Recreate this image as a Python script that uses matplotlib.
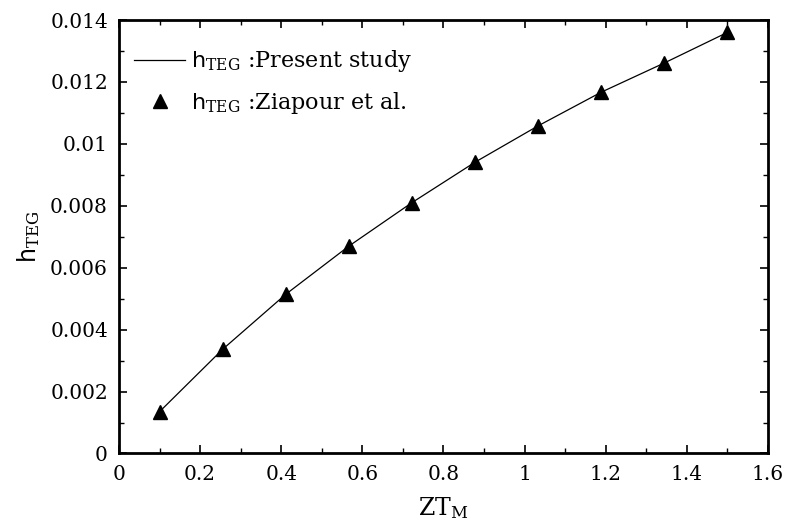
import matplotlib
matplotlib.use('Agg')
import matplotlib.pyplot as plt
from matplotlib.ticker import MultipleLocator, FuncFormatter

# data
zt = [0.1, 0.256, 0.411, 0.567, 0.722, 0.878, 1.033, 1.189, 1.344, 1.5]
h_present = [0.00135, 0.00337, 0.00514, 0.00670, 0.00810, 0.00941, 0.01058, 0.01167, 0.01261, 0.01360]
h_ziapour = [0.00135, 0.00337, 0.00514, 0.00670, 0.00810, 0.00941, 0.01058, 0.01167, 0.01261, 0.01360]

plt.rcParams['font.family'] = ['DejaVu Serif']
plt.rcParams['mathtext.fontset'] = 'dejavuserif'

fig = plt.figure(figsize=(7.88, 5.27), dpi=100)
ax = fig.add_axes([0.151, 0.1395, 0.8236, 0.8225])

ax.plot(zt, h_present, color='black', lw=0.9,
        label=r'$\mathsf{h}_{\rm TEG}$ :Present study')
ax.plot(zt, h_ziapour, ls='none', marker='^', ms=9.5, color='black',
        label=r'$\mathsf{h}_{\rm TEG}$ :Ziapour et al.')

ax.set_xlim(0, 1.6)
ax.set_ylim(0, 0.014)
ax.xaxis.set_major_locator(MultipleLocator(0.2))
ax.xaxis.set_minor_locator(MultipleLocator(0.1))
ax.yaxis.set_major_locator(MultipleLocator(0.002))
ax.yaxis.set_minor_locator(MultipleLocator(0.001))
fmt = FuncFormatter(lambda v, p: '%g' % round(v, 6))
ax.xaxis.set_major_formatter(fmt)
ax.yaxis.set_major_formatter(fmt)

ax.tick_params(which='both', direction='in', top=True, right=True, labelsize=14.5)
ax.tick_params(which='major', length=6, width=1.2, pad=8)
ax.tick_params(which='minor', length=3.5, width=1.0)
for s in ax.spines.values():
    s.set_linewidth(2)

ax.set_xlabel(r'ZT$_{\rm M}$', fontsize=17, labelpad=8)
ax.set_ylabel(r'$\mathsf{h}_{\rm TEG}$', fontsize=17, labelpad=6)

ax.legend(loc='upper left', bbox_to_anchor=(0.01, 0.955), borderaxespad=0,
          frameon=False, fontsize=16, handlelength=2.3, handletextpad=0.25,
          labelspacing=0.7)

fig.savefig('out.png', dpi=100)
